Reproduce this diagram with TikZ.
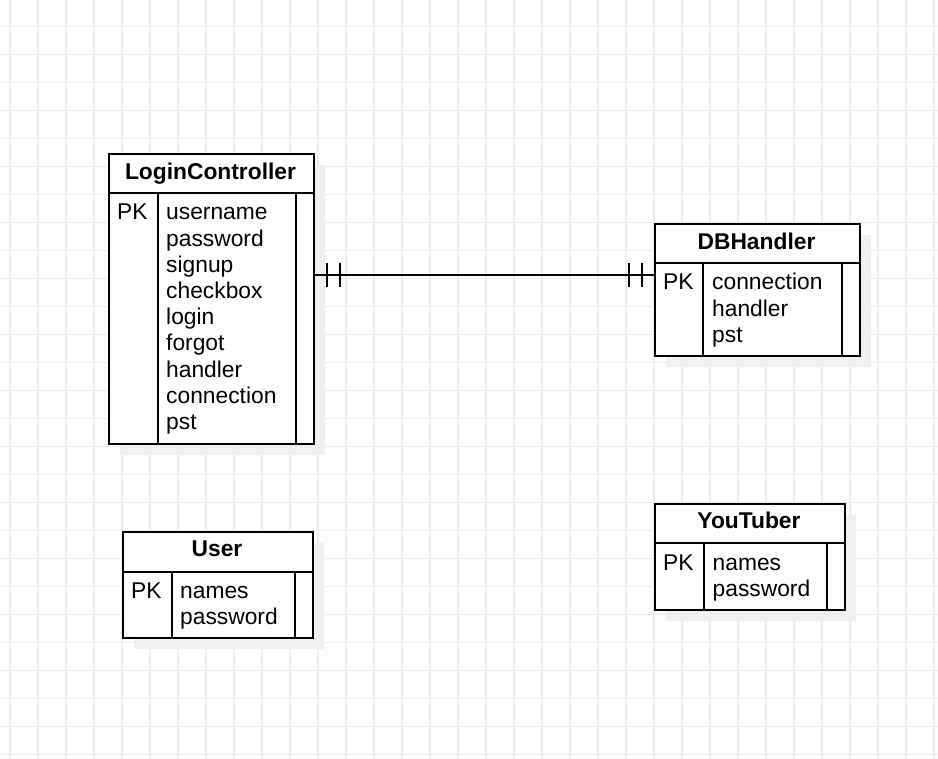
\documentclass[tikz,border=0pt]{standalone}
\usepackage{fontspec}
\setmainfont{Liberation Sans}
\begin{document}
\begin{tikzpicture}[x=1pt,y=-1pt,
  gridline/.style={draw=black!7,line width=1.4pt},
  shadowbox/.style={fill=black!6,draw=none},
  tablebox/.style={draw=black,fill=white,line width=2pt,inner sep=0pt,anchor=north west},
  divider/.style={draw=black,line width=2pt},
  rel/.style={draw=black,line width=1.8pt},
  tick/.style={draw=black,line width=2pt},
  title/.style={font=\fontsize{22.8}{27}\selectfont\bfseries,anchor=base,inner sep=0pt},
  rowtext/.style={font=\fontsize{22.8}{27}\selectfont,anchor=base west,inner sep=0pt}]
\useasboundingbox (0,0) rectangle (938,759);
\fill[white] (0,0) rectangle (938,759);
% grid
\foreach \i in {0,...,33} {\draw[gridline] (10+28*\i,0) -- (10+28*\i,759);}
\foreach \j in {0,...,26} {\draw[gridline] (0,26.5+28*\j) -- (938,26.5+28*\j);}

% ---- LoginController ----
\fill[shadowbox] (120,165) rectangle (325,455);
\node[tablebox,minimum width=205pt,minimum height=290pt] (lc) at (108,153) {};
\draw[divider] (108,193) -- (313,193);
\draw[divider] (157.5,193) -- (157.5,443);
\draw[divider] (296,193) -- (296,443);
\node[title] (lct) at (210.5,179.5) {LoginController};
\node[rowtext] (lcpk) at (117,220) {PK};
\foreach \t [count=\i] in {username,password,signup,checkbox,login,forgot,handler,connection,pst}
  \node[rowtext] (lc-\i) at (166,220+26.2*\i-26.2) {\t};

% ---- DBHandler ----
\fill[shadowbox] (666,235) rectangle (871,367);
\node[tablebox,minimum width=205pt,minimum height=132pt] (db) at (654,223) {};
\draw[divider] (654,263) -- (859,263);
\draw[divider] (703,263) -- (703,355);
\draw[divider] (842,263) -- (842,355);
\node[title] (dbt) at (756.5,249.5) {DBHandler};
\node[rowtext] (dbpk) at (663,290) {PK};
\foreach \t [count=\i] in {connection,handler,pst}
  \node[rowtext] (db-\i) at (712,290+26.2*\i-26.2) {\t};

% ---- User ----
\fill[shadowbox] (134,543) rectangle (324,649);
\node[tablebox,minimum width=190pt,minimum height=106pt] (us) at (122,531) {};
\draw[divider] (122,572) -- (312,572);
\draw[divider] (171.5,572) -- (171.5,637);
\draw[divider] (295,572) -- (295,637);
\node[title] (ust) at (217,556.5) {User};
\node[rowtext] (uspk) at (131,598.5) {PK};
\foreach \t [count=\i] in {names,password}
  \node[rowtext] (us-\i) at (180,598.5+26.2*\i-26.2) {\t};

% ---- YouTuber ----
\fill[shadowbox] (666,515) rectangle (856,621);
\node[tablebox,minimum width=190pt,minimum height=106pt] (yt) at (654,503) {};
\draw[divider] (654,543) -- (844,543);
\draw[divider] (703.5,543) -- (703.5,609);
\draw[divider] (827,543) -- (827,609);
\node[title] (ytt) at (749,528.5) {YouTuber};
\node[rowtext] (ytpk) at (663,570.5) {PK};
\foreach \t [count=\i] in {names,password}
  \node[rowtext] (yt-\i) at (712.5,570.5+26.2*\i-26.2) {\t};

% ---- relationship LoginController -- DBHandler (one and only one, both ends) ----
\coordinate (ra) at (lc.east |- 0,275);
\coordinate (rb) at (db.west |- 0,275);
\draw[rel] (ra) -- (rb);
\draw[tick] ([xshift=12]ra) ++(0,-12) -- ++(0,24);
\draw[tick] ([xshift=24.5]ra) ++(0,-12) -- ++(0,24);
\draw[tick] ([xshift=-12.5]rb) ++(0,-12) -- ++(0,24);
\draw[tick] ([xshift=-25]rb) ++(0,-12) -- ++(0,24);
\end{tikzpicture}
\end{document}
